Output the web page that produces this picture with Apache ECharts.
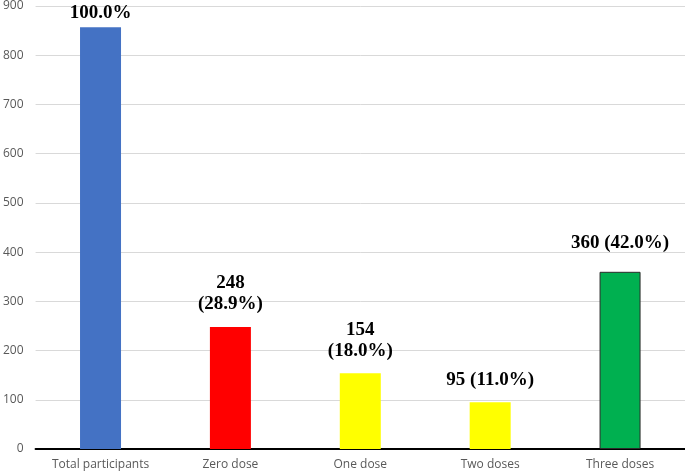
<!DOCTYPE html>
<html><head><meta charset="utf-8">
<script src="https://cdn.jsdelivr.net/npm/echarts@6/dist/echarts.min.js"></script>
<style>html,body{margin:0;padding:0;background:#fff}#c{width:685px;height:474px}</style>
</head><body><div id="c"></div>
<script>
const categories = ["Total participants", "Zero dose", "One dose", "Two doses", "Three doses"];
const values = [857, 248, 154, 95, 360];
const barLabels = ["100.0%", "248\n(28.9%)", "154\n(18.0%)", "95 (11.0%)", "360 (42.0%)"];
const barColors = ["#4472c4", "#ff0000", "#ffff00", "#ffff00", "#00b050"];
const labelDistances = [4, 12, 12, 12, 18];
const yTicks = {min: 0, max: 900, interval: 100};

const chart = echarts.init(document.getElementById('c'), null, {renderer: 'canvas'});
chart.setOption({
  animation: false,
  grid: {left: 35, right: 0, top: 5, bottom: 25, containLabel: false},
  xAxis: {
    type: 'category', data: categories,
    axisLine: {lineStyle: {color: '#000', width: 2}},
    axisTick: {show: false},
    axisLabel: {color: '#595959', fontSize: 12, fontFamily: 'Open Sans', margin: 10, interval: 0}
  },
  yAxis: {
    type: 'value', min: yTicks.min, max: yTicks.max, interval: yTicks.interval,
    axisLine: {show: false}, axisTick: {show: false},
    axisLabel: {color: '#595959', fontSize: 12, fontFamily: 'Open Sans', margin: 12},
    splitLine: {lineStyle: {color: '#d9d9d9', width: 1}}
  },
  series: [{
    type: 'bar', barWidth: 41,
    data: values.map((v, i) => ({
      value: v,
      itemStyle: {color: barColors[i], borderColor: i === 4 ? '#2b2b2b' : barColors[i], borderWidth: i === 4 ? 1 : 0},
      label: {show: true, position: 'top', distance: labelDistances[i], formatter: barLabels[i]}
    })),
    label: {fontFamily: 'Liberation Serif', fontWeight: 'bold', fontSize: 19, color: '#000', lineHeight: 21, align: 'center'}
  }]
});
</script></body></html>
